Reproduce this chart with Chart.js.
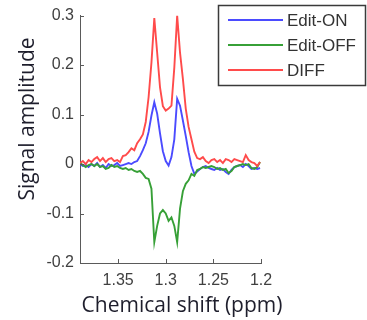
<!DOCTYPE html>
<html>
<head>
<meta charset="utf-8">
<script src="https://cdn.jsdelivr.net/npm/chart.js@4.4.1/dist/chart.umd.min.js"></script>
<style>
  body { margin: 0; background: #fff; }
  #wrap { width: 367px; height: 320px; position: relative; }
</style>
</head>
<body>
<div id="wrap"><canvas id="spec"></canvas></div>
<script>
// chemical shift axis (ppm)
const ppm = [1.390, 1.387, 1.384, 1.381, 1.378, 1.375, 1.372, 1.369, 1.366, 1.363,
  1.360, 1.357, 1.354, 1.351, 1.348, 1.345, 1.342, 1.339, 1.336, 1.333,
  1.330, 1.327, 1.324, 1.321, 1.318, 1.315, 1.312, 1.309, 1.306, 1.303,
  1.300, 1.297, 1.294, 1.291, 1.288, 1.285, 1.282, 1.279, 1.276, 1.273,
  1.270, 1.267, 1.264, 1.261, 1.258, 1.255, 1.252, 1.249, 1.246, 1.243,
  1.240, 1.237, 1.234, 1.231, 1.228, 1.225, 1.222, 1.219, 1.216, 1.213,
  1.210, 1.207, 1.204, 1.201];

const editOn = [0.000, -0.004, -0.002, -0.006, 0.000, -0.004, 0.002, -0.006, -0.002, -0.008,
  0.000, -0.004, -0.002, 0.002, -0.004, -0.002, 0.000, 0.002, 0.000, 0.004,
  0.006, 0.016, 0.028, 0.042, 0.065, 0.098, 0.125, 0.102,
  0.062, 0.026, 0.006, -0.003, 0.014, 0.050, 0.132, 0.118,
  0.088, 0.057, 0.024, -0.004, -0.020, -0.015, -0.010, -0.006,
  -0.004, -0.008, -0.010, -0.012, -0.008, -0.012, -0.010, -0.016,
  -0.020, -0.012, -0.006, -0.004, -0.002, -0.006, 0.000, -0.004,
  -0.010, -0.008, -0.010, -0.008];

const editOff = [0.002, -0.002, -0.006, -0.002, 0.000, -0.004, 0.000, -0.006, -0.004, -0.010,
  -0.008, -0.002, -0.006, -0.004, -0.008, -0.010, -0.008, -0.012, -0.010, -0.014,
  -0.016, -0.014, -0.020, -0.028, -0.030, -0.050, -0.158, -0.125,
  -0.100, -0.093, -0.100, -0.115, -0.108, -0.125, -0.158, -0.090,
  -0.055, -0.040, -0.033, -0.020, -0.024, -0.012, -0.010, -0.006,
  -0.008, -0.006, -0.004, -0.006, -0.010, -0.008, -0.012, -0.010,
  -0.018, -0.014, -0.006, -0.004, -0.002, 0.000, -0.002, 0.000,
  -0.008, -0.010, -0.006, 0.004];

const diff = [0.002, 0.006, 0.000, 0.008, 0.004, 0.010, 0.014, 0.006, 0.012, 0.004,
  0.010, 0.012, 0.006, 0.008, 0.004, 0.016, 0.018, 0.024,
  0.032, 0.028, 0.042, 0.050, 0.060, 0.085, 0.135, 0.205,
  0.295, 0.225, 0.155, 0.117, 0.108, 0.112, 0.118, 0.195,
  0.300, 0.225, 0.172, 0.112, 0.075, 0.050, 0.025, 0.012,
  0.010, 0.014, 0.006, 0.002, 0.008, 0.010, 0.004, 0.008,
  0.002, 0.010, 0.008, 0.004, 0.010, 0.008, 0.006, 0.004,
  0.018, 0.008, 0.004, 0.002, -0.004, 0.004];

const xTicks = [1.35, 1.3, 1.25, 1.2];
const yTicks = [0.3, 0.2, 0.1, 0, -0.1, -0.2];

const AXIS = '#5a5a5a';
const TEXT = '#404040';
const TITLE = '#1e1e2c';

const pts = arr => arr.map((v, i) => ({ x: ppm[i], y: v }));

// inward tick marks, axis titles and the boxed legend
const decor = {
  id: 'decor',
  afterDraw(chart) {
    const { ctx, chartArea: a, scales: { x, y } } = chart;
    ctx.save();
    ctx.strokeStyle = AXIS;
    ctx.lineWidth = 1;
    ctx.beginPath();
    xTicks.forEach(v => {
      const px = Math.round(x.getPixelForValue(v)) + 0.5;
      ctx.moveTo(px, a.bottom);
      ctx.lineTo(px, a.bottom - 4);
    });
    yTicks.forEach(v => {
      const py = Math.round(y.getPixelForValue(v)) + 0.5;
      ctx.moveTo(a.left, py);
      ctx.lineTo(a.left + 4, py);
    });
    ctx.stroke();

    // axis titles
    ctx.fillStyle = TITLE;
    ctx.font = '21px "Open Sans"';
    ctx.textAlign = 'center';
    ctx.textBaseline = 'middle';
    ctx.fillText('Chemical shift (ppm)', 182, 306);
    ctx.save();
    ctx.translate(28, 119);
    ctx.rotate(-Math.PI / 2);
    ctx.fillText('Signal amplitude', 0, 0);
    ctx.restore();

    // legend
    ctx.fillStyle = '#fff';
    ctx.fillRect(218, 5, 148, 81);
    ctx.strokeStyle = '#3a3a3a';
    ctx.lineWidth = 1.5;
    ctx.strokeRect(218.5, 5.5, 147, 80);
    ctx.font = '17px "Liberation Sans"';
    ctx.textAlign = 'left';
    chart.data.datasets.forEach((ds, i) => {
      const ly = 20 + i * 25;
      ctx.strokeStyle = ds.borderColor;
      ctx.lineWidth = 2;
      ctx.beginPath();
      ctx.moveTo(228, ly);
      ctx.lineTo(283, ly);
      ctx.stroke();
      ctx.fillStyle = '#333';
      ctx.fillText(ds.label, 287, ly + 1);
    });
    ctx.restore();
  }
};

new Chart(document.getElementById('spec'), {
  type: 'line',
  data: {
    datasets: [
      { label: 'Edit-ON', data: pts(editOn), borderColor: 'rgb(75,75,255)', order: 3 },
      { label: 'Edit-OFF', data: pts(editOff), borderColor: 'rgb(55,160,55)', order: 2 },
      { label: 'DIFF', data: pts(diff), borderColor: 'rgb(255,75,75)', order: 1 }
    ]
  },
  options: {
    responsive: true,
    maintainAspectRatio: false,
    animation: false,
    layout: { padding: { top: 14, right: 106, left: 0, bottom: 0 } },
    elements: {
      line: { borderWidth: 1.9, tension: 0 },
      point: { radius: 0 }
    },
    plugins: { legend: { display: false }, tooltip: { enabled: false } },
    scales: {
      x: {
        type: 'linear',
        reverse: true,
        min: 1.2,
        max: 1.39,
        afterBuildTicks: s => { s.ticks = xTicks.map(value => ({ value })); },
        afterFit: s => { s.height = 57; },
        grid: { display: false, drawTicks: false },
        border: { display: true, color: AXIS, width: 1 },
        ticks: {
          padding: 8,
          color: TEXT,
          font: { family: '"Liberation Sans"', size: 16 },
          callback: v => String(+v.toFixed(2))
        }
      },
      y: {
        min: -0.2,
        max: 0.3,
        afterBuildTicks: s => { s.ticks = yTicks.map(value => ({ value })); },
        afterFit: s => { s.width = 80; },
        grid: { display: false, drawTicks: false },
        border: { display: true, color: AXIS, width: 1 },
        ticks: {
          padding: 6,
          color: TEXT,
          font: { family: '"Liberation Sans"', size: 16 },
          callback: v => Math.abs(v) < 1e-9 ? '0' : v.toFixed(1)
        }
      }
    }
  },
  plugins: [decor]
});
</script>
</body>
</html>
